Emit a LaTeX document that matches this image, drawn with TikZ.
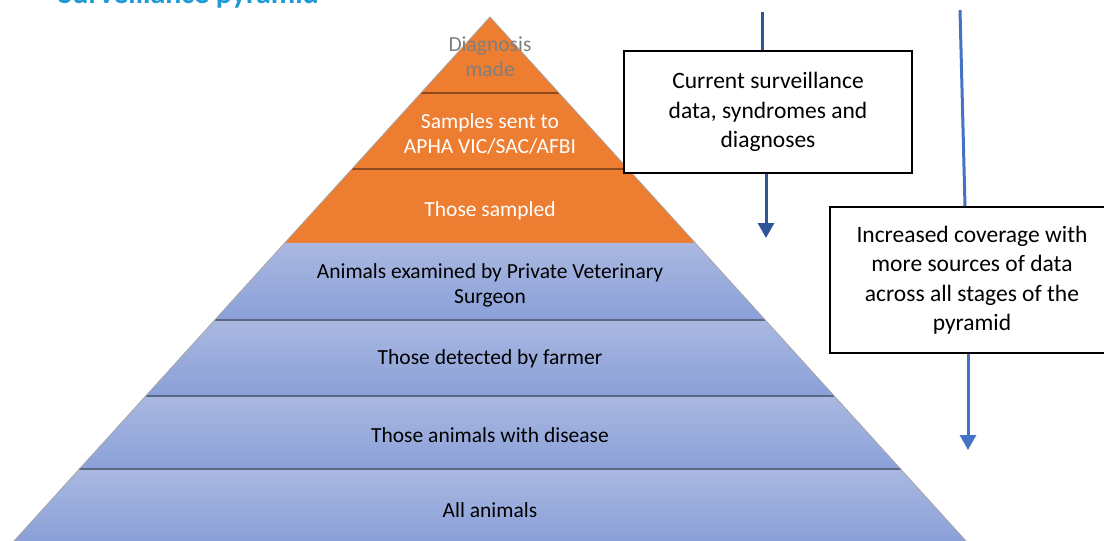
\documentclass[tikz,border=0pt]{standalone}
\usepackage{fontspec}
\setmainfont{Carlito}
\usetikzlibrary{arrows.meta,calc}
\definecolor{orng}{HTML}{ED7D31}
\definecolor{orngsep}{HTML}{8E4A1E}
\definecolor{bltop}{HTML}{AAB8E1}
\definecolor{blbot}{HTML}{8AA0D8}
\definecolor{blsep}{HTML}{5A6684}
\definecolor{arrdark}{HTML}{2F5597}
\definecolor{arrlight}{HTML}{4472C4}
\definecolor{ttl}{HTML}{1E9AD6}
\definecolor{graytxt}{HTML}{7F7F7F}
\begin{document}
\begin{tikzpicture}[x=1pt,y=-1pt,
  txt/.style={font=\fontsize{21.5}{25}\selectfont, align=center, inner sep=0pt},
  boxtxt/.style={font=\fontsize{23.5}{29.5}\selectfont, align=center},
  orlayer/.style={fill=orng},
  bllayer/.style={top color=bltop, bottom color=blbot},
  sepor/.style={draw=orngsep, line width=1.6pt},
  sepbl/.style={draw=blsep, line width=1.6pt},
  infobox/.style={draw=black, line width=1.6pt, fill=white, inner sep=0pt},
  flowdark/.style={draw=arrdark, line width=3pt, -{Triangle[width=16pt,length=15pt]}},
  flowlight/.style={draw=arrlight, line width=3pt, -{Triangle[width=16pt,length=15pt]}},
  flowdarkplain/.style={draw=arrdark, line width=3pt},
  flowlightplain/.style={draw=arrlight, line width=3pt}
]
\useasboundingbox (0,0) rectangle (1104,541);
% title (cut off by the top edge, as in the reference)
\node[anchor=base west, text=ttl, font=\bfseries\fontsize{30}{32}\selectfont, inner sep=0pt] (title) at (58,3) {Surveillance pyramid};

% pyramid geometry
\coordinate (apex) at (490,17);
\coordinate (bl) at (14,541);
\coordinate (br) at (966,541);
\coordinate (l1) at ($(apex)!0.145!(bl)$); \coordinate (r1) at ($(apex)!0.145!(br)$);
\coordinate (l2) at ($(apex)!0.290!(bl)$); \coordinate (r2) at ($(apex)!0.290!(br)$);
\coordinate (l3) at ($(apex)!0.431!(bl)$); \coordinate (r3) at ($(apex)!0.431!(br)$);
\coordinate (l4) at ($(apex)!0.578!(bl)$); \coordinate (r4) at ($(apex)!0.578!(br)$);
\coordinate (l5) at ($(apex)!0.723!(bl)$); \coordinate (r5) at ($(apex)!0.723!(br)$);
\coordinate (l6) at ($(apex)!0.863!(bl)$); \coordinate (r6) at ($(apex)!0.863!(br)$);

\path[orlayer] (apex) -- (r1) -- (l1) -- cycle;
\path[orlayer] (l1) -- (r1) -- (r2) -- (l2) -- cycle;
\path[orlayer] (l2) -- (r2) -- (r3) -- (l3) -- cycle;
\path[bllayer] (l3) -- (r3) -- (r4) -- (l4) -- cycle;
\path[bllayer] (l4) -- (r4) -- (r5) -- (l5) -- cycle;
\path[bllayer] (l5) -- (r5) -- (r6) -- (l6) -- cycle;
\path[bllayer] (l6) -- (r6) -- (br) -- (bl) -- cycle;

\draw[sepor] (l1) -- (r1);
\draw[sepor] (l2) -- (r2);
\draw[sepbl] (l4) -- (r4);
\draw[sepbl] (l5) -- (r5);
\draw[sepbl] (l6) -- (r6);
\draw[gray!70, line width=0.8pt] (bl) -- (apex) -- (br);

% layer labels
\node[txt, text=graytxt] (diag) at (490,57) {Diagnosis\\made};
\node[txt, text=white] (sent) at (490,134) {Samples sent to\\APHA VIC/SAC/AFBI};
\node[txt, text=white] (sampled) at (490,211) {Those sampled};
\node[txt] (examined) at (490,285) {Animals examined by Private Veterinary\\Surgeon};
\node[txt] (farmer) at (490,359) {Those detected by farmer};
\node[txt] (disease) at (490,435) {Those animals with disease};
\node[txt] (all) at (490,510) {All animals};

% information boxes
\node[infobox, minimum width=288pt, minimum height=122pt, boxtxt] (box1) at (768,112) {Current surveillance\\data, syndromes and\\diagnoses};
\node[infobox, minimum width=284pt, minimum height=146pt, boxtxt] (box2) at (972,280) {Increased coverage with\\more sources of data\\across all stages of the\\pyramid};

% arrows
\coordinate (a1top) at (762,12);
\coordinate (a1bot) at (766,238);
\coordinate (a2top) at (960,10);
\coordinate (a2bot) at (968,450);
\draw[flowdarkplain] (a1top) -- (a1top |- box1.north);
\draw[flowdark] (a1bot |- box1.south) -- (a1bot);
\draw[flowlightplain] (a2top) -- (965,0 |- box2.north);
\draw[flowlight] (a2bot |- box2.south) -- (a2bot);
\end{tikzpicture}
\end{document}
